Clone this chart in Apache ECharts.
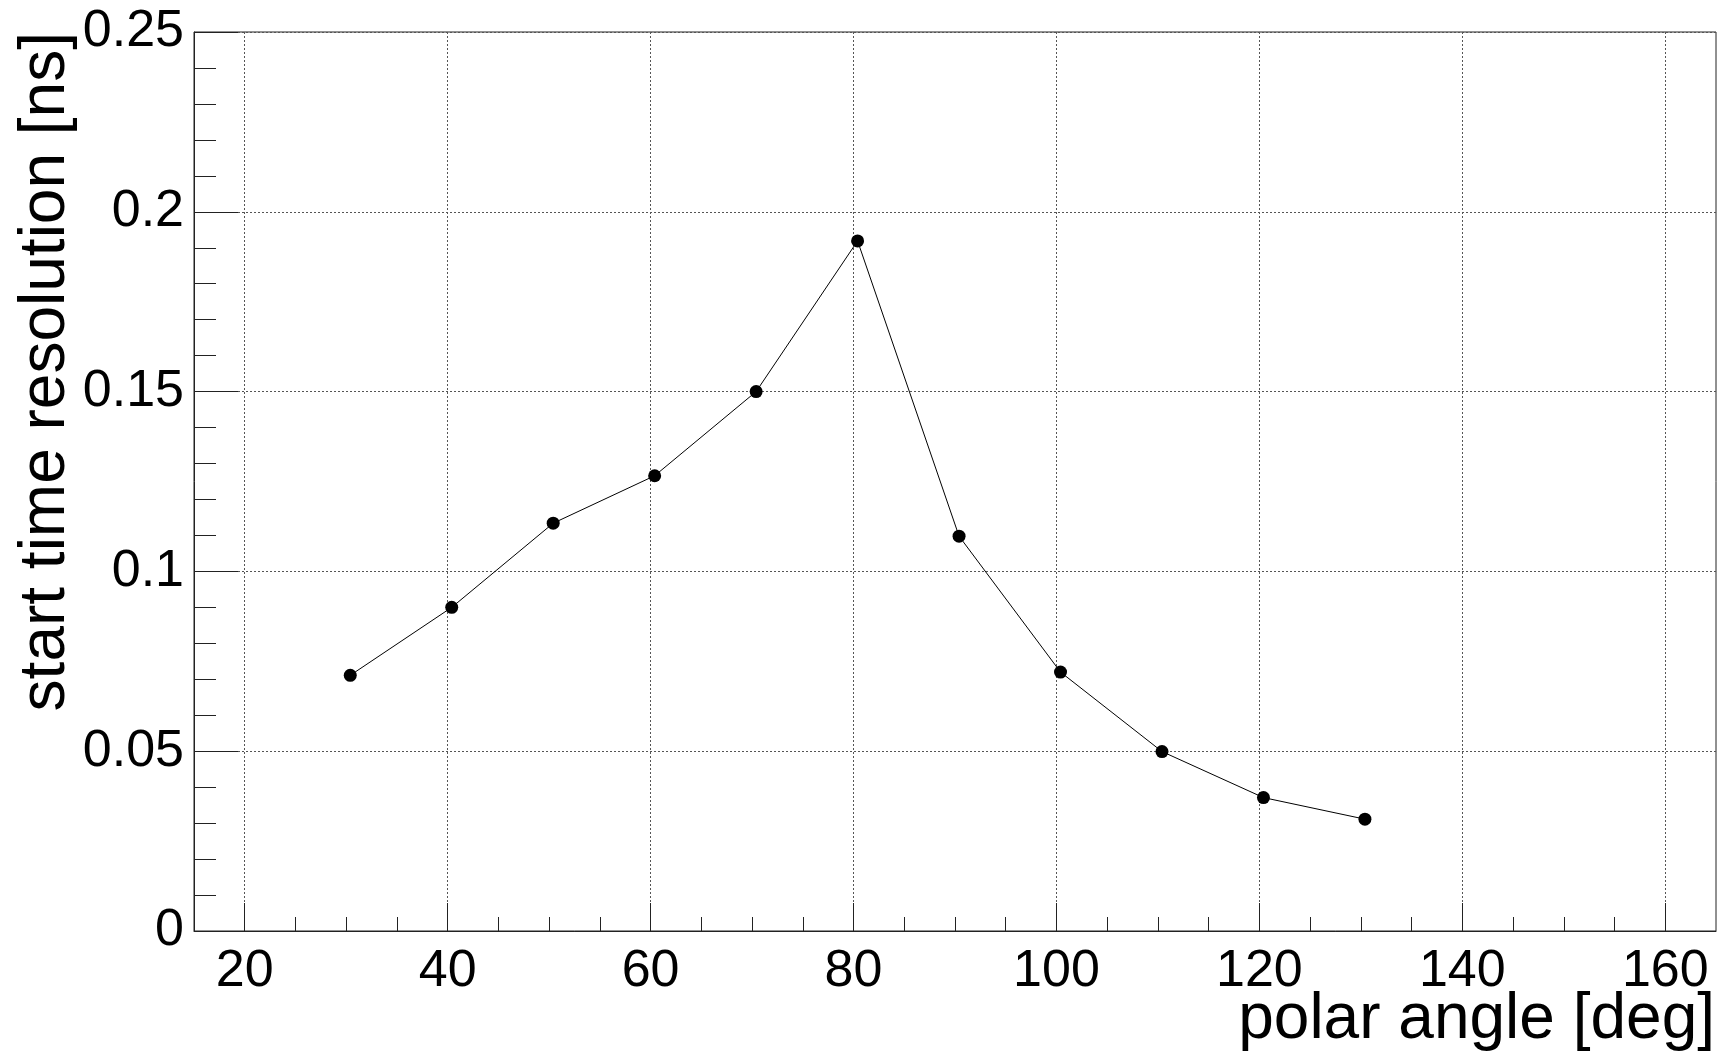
<!DOCTYPE html>
<html>
<head>
<meta charset="utf-8">
<script src="https://cdn.jsdelivr.net/npm/echarts@6/dist/echarts.min.js"></script>
<style>
html,body{margin:0;padding:0;background:#fff;}
#chart{width:1729px;height:1059px;}
</style>
</head>
<body>
<div id="chart"></div>
<script>
// ---- data ----
const polarAngle = [30.4, 40.4, 50.4, 60.4, 70.4, 80.4, 90.4, 100.4, 110.4, 120.4, 130.4];
const startTimeRes = [0.0711, 0.0900, 0.1134, 0.1266, 0.1500, 0.1919, 0.1098, 0.0720, 0.0499, 0.0371, 0.0311];
const xMajorTicks = [20, 40, 60, 80, 100, 120, 140, 160];
const xMinorTicks = [25, 30, 35, 45, 50, 55, 65, 70, 75, 85, 90, 95, 105, 110, 115, 125, 130, 135, 145, 150, 155];
const xTitle = 'polar angle [deg]';
const yTitle = 'start time resolution [ns]';

const FONT = 'Liberation Sans, Arial, Helvetica, sans-serif';
const chart = echarts.init(document.getElementById('chart'), null, {renderer: 'canvas'});

const points = polarAngle.map((x, i) => [x, startTimeRes[i]]);

chart.setOption({
  animation: false,
  backgroundColor: '#ffffff',
  grid: {
    left: 194, top: 32, width: 1522, height: 899,
    show: true, borderColor: '#222', borderWidth: 1, containLabel: false
  },
  xAxis: [
    {
      type: 'value', min: 15, max: 165,
      axisLine: {show: true, onZero: false, lineStyle: {color: '#222', width: 1}},
      axisTick: {show: true, inside: true, length: 28, customValues: xMajorTicks, lineStyle: {color: '#222', width: 1}},
      axisLabel: {show: true, customValues: xMajorTicks, margin: 15, fontSize: 52, fontFamily: FONT, color: '#000'},
      splitLine: {show: true, lineStyle: {type: [2, 2], color: '#555', width: 1}},
      minorTick: {show: false}
    },
    {
      type: 'value', min: 15, max: 165, position: 'bottom', gridIndex: 0,
      axisLine: {show: false},
      axisTick: {show: true, inside: true, length: 14, customValues: xMinorTicks, lineStyle: {color: '#222', width: 1}},
      axisLabel: {show: false},
      splitLine: {show: false}
    }
  ],
  yAxis: {
    type: 'value', min: 0, max: 0.25, interval: 0.05,
    axisLine: {show: true, onZero: false, lineStyle: {color: '#222', width: 1}},
    axisTick: {show: true, inside: true, length: 44, lineStyle: {color: '#222', width: 1}},
    minorTick: {show: true, splitNumber: 5, length: 22, lineStyle: {color: '#222', width: 1}},
    axisLabel: {show: true, margin: 10, fontSize: 52, fontFamily: FONT, color: '#000'},
    splitLine: {show: true, lineStyle: {type: [2, 2], color: '#555', width: 1}}
  },
  graphic: [
    {
      type: 'text', x: 1715, y: 1020,
      style: {text: xTitle, font: '64px ' + FONT, fill: '#000', align: 'right', verticalAlign: 'middle'}
    },
    {
      type: 'text', x: 46, y: 32, rotation: Math.PI / 2,
      style: {text: yTitle, font: '64px ' + FONT, fill: '#000', align: 'right', verticalAlign: 'middle'}
    }
  ],
  series: [{
    type: 'line',
    xAxisIndex: 0,
    data: points,
    symbol: 'circle',
    symbolSize: 13,
    showSymbol: true,
    lineStyle: {color: '#000', width: 1},
    itemStyle: {color: '#000'},
    z: 5
  }]
});
</script>
</body>
</html>
